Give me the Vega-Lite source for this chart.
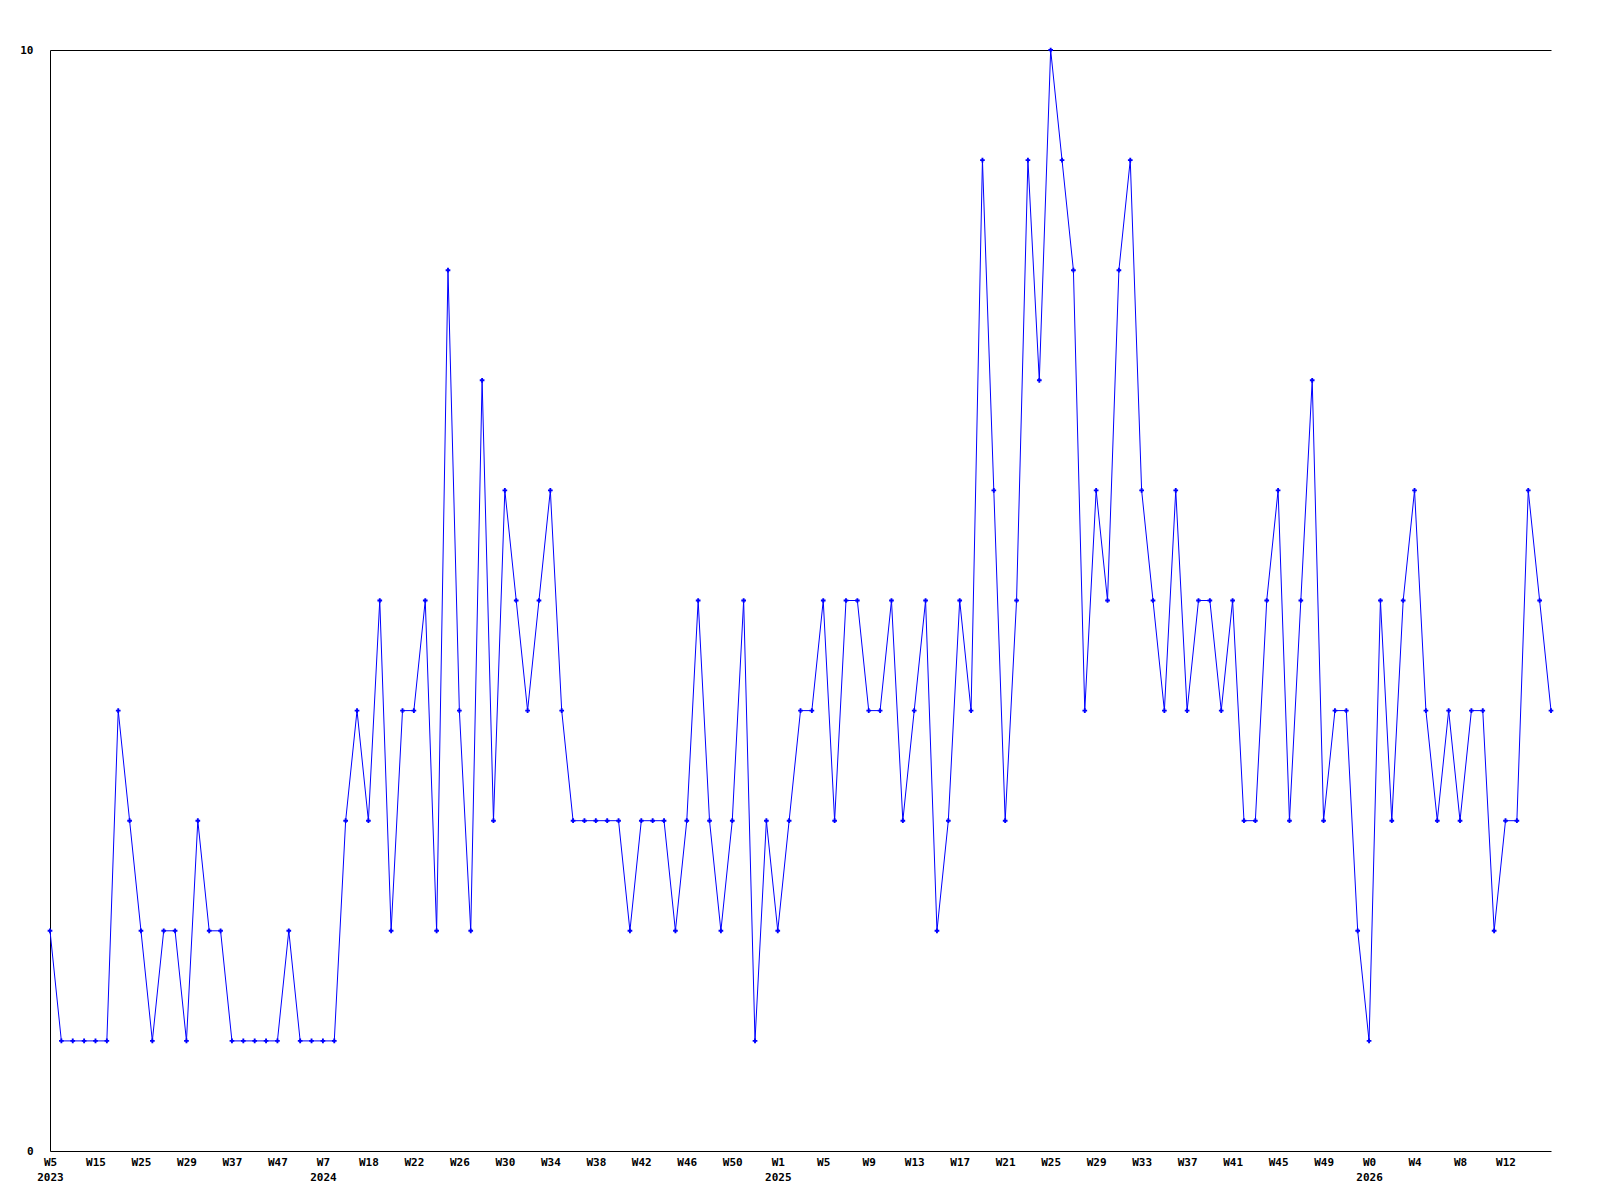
{
  "$schema": "https://vega.github.io/schema/vega-lite/v6.json",
  "autosize": "none",
  "width": 1501,
  "height": 1101,
  "padding": {"left": 50, "top": 50, "right": 49, "bottom": 49},
  "background": "white",
  "config": {
    "view": {"stroke": null},
    "axis": {
      "labelFont": "DejaVu Sans Mono",
      "labelFontWeight": "bold",
      "labelFontSize": 11,
      "labelColor": "black",
      "domainColor": "black",
      "domainWidth": 1,
      "ticks": false,
      "grid": false,
      "title": null
    }
  },
  "data": {
    "values": [
      {"week": "2023-W5", "count": 2},
      {"week": "2023-W7", "count": 1},
      {"week": "2023-W10", "count": 1},
      {"week": "2023-W12", "count": 1},
      {"week": "2023-W15", "count": 1},
      {"week": "2023-W17", "count": 1},
      {"week": "2023-W20", "count": 4},
      {"week": "2023-W22", "count": 3},
      {"week": "2023-W25", "count": 2},
      {"week": "2023-W26", "count": 1},
      {"week": "2023-W27", "count": 2},
      {"week": "2023-W28", "count": 2},
      {"week": "2023-W29", "count": 1},
      {"week": "2023-W31", "count": 3},
      {"week": "2023-W33", "count": 2},
      {"week": "2023-W35", "count": 2},
      {"week": "2023-W37", "count": 1},
      {"week": "2023-W39", "count": 1},
      {"week": "2023-W42", "count": 1},
      {"week": "2023-W44", "count": 1},
      {"week": "2023-W47", "count": 1},
      {"week": "2023-W49", "count": 2},
      {"week": "2023-W51", "count": 1},
      {"week": "2024-W3", "count": 1},
      {"week": "2024-W7", "count": 1},
      {"week": "2024-W10", "count": 1},
      {"week": "2024-W13", "count": 3},
      {"week": "2024-W15", "count": 4},
      {"week": "2024-W18", "count": 3},
      {"week": "2024-W19", "count": 5},
      {"week": "2024-W20", "count": 2},
      {"week": "2024-W21", "count": 4},
      {"week": "2024-W22", "count": 4},
      {"week": "2024-W23", "count": 5},
      {"week": "2024-W24", "count": 2},
      {"week": "2024-W25", "count": 8},
      {"week": "2024-W26", "count": 4},
      {"week": "2024-W27", "count": 2},
      {"week": "2024-W28", "count": 7},
      {"week": "2024-W29", "count": 3},
      {"week": "2024-W30", "count": 6},
      {"week": "2024-W31", "count": 5},
      {"week": "2024-W32", "count": 4},
      {"week": "2024-W33", "count": 5},
      {"week": "2024-W34", "count": 6},
      {"week": "2024-W35", "count": 4},
      {"week": "2024-W36", "count": 3},
      {"week": "2024-W37", "count": 3},
      {"week": "2024-W38", "count": 3},
      {"week": "2024-W39", "count": 3},
      {"week": "2024-W40", "count": 3},
      {"week": "2024-W41", "count": 2},
      {"week": "2024-W42", "count": 3},
      {"week": "2024-W43", "count": 3},
      {"week": "2024-W44", "count": 3},
      {"week": "2024-W45", "count": 2},
      {"week": "2024-W46", "count": 3},
      {"week": "2024-W47", "count": 5},
      {"week": "2024-W48", "count": 3},
      {"week": "2024-W49", "count": 2},
      {"week": "2024-W50", "count": 3},
      {"week": "2024-W51", "count": 5},
      {"week": "2024-W52", "count": 1},
      {"week": "2025-W0", "count": 3},
      {"week": "2025-W1", "count": 2},
      {"week": "2025-W2", "count": 3},
      {"week": "2025-W3", "count": 4},
      {"week": "2025-W4", "count": 4},
      {"week": "2025-W5", "count": 5},
      {"week": "2025-W6", "count": 3},
      {"week": "2025-W7", "count": 5},
      {"week": "2025-W8", "count": 5},
      {"week": "2025-W9", "count": 4},
      {"week": "2025-W10", "count": 4},
      {"week": "2025-W11", "count": 5},
      {"week": "2025-W12", "count": 3},
      {"week": "2025-W13", "count": 4},
      {"week": "2025-W14", "count": 5},
      {"week": "2025-W15", "count": 2},
      {"week": "2025-W16", "count": 3},
      {"week": "2025-W17", "count": 5},
      {"week": "2025-W18", "count": 4},
      {"week": "2025-W19", "count": 9},
      {"week": "2025-W20", "count": 6},
      {"week": "2025-W21", "count": 3},
      {"week": "2025-W22", "count": 5},
      {"week": "2025-W23", "count": 9},
      {"week": "2025-W24", "count": 7},
      {"week": "2025-W25", "count": 10},
      {"week": "2025-W26", "count": 9},
      {"week": "2025-W27", "count": 8},
      {"week": "2025-W28", "count": 4},
      {"week": "2025-W29", "count": 6},
      {"week": "2025-W30", "count": 5},
      {"week": "2025-W31", "count": 8},
      {"week": "2025-W32", "count": 9},
      {"week": "2025-W33", "count": 6},
      {"week": "2025-W34", "count": 5},
      {"week": "2025-W35", "count": 4},
      {"week": "2025-W36", "count": 6},
      {"week": "2025-W37", "count": 4},
      {"week": "2025-W38", "count": 5},
      {"week": "2025-W39", "count": 5},
      {"week": "2025-W40", "count": 4},
      {"week": "2025-W41", "count": 5},
      {"week": "2025-W42", "count": 3},
      {"week": "2025-W43", "count": 3},
      {"week": "2025-W44", "count": 5},
      {"week": "2025-W45", "count": 6},
      {"week": "2025-W46", "count": 3},
      {"week": "2025-W47", "count": 5},
      {"week": "2025-W48", "count": 7},
      {"week": "2025-W49", "count": 3},
      {"week": "2025-W50", "count": 4},
      {"week": "2025-W51", "count": 4},
      {"week": "2025-W52", "count": 2},
      {"week": "2026-W0", "count": 1},
      {"week": "2026-W1", "count": 5},
      {"week": "2026-W2", "count": 3},
      {"week": "2026-W3", "count": 5},
      {"week": "2026-W4", "count": 6},
      {"week": "2026-W5", "count": 4},
      {"week": "2026-W6", "count": 3},
      {"week": "2026-W7", "count": 4},
      {"week": "2026-W8", "count": 3},
      {"week": "2026-W9", "count": 4},
      {"week": "2026-W10", "count": 4},
      {"week": "2026-W11", "count": 2},
      {"week": "2026-W12", "count": 3},
      {"week": "2026-W13", "count": 3},
      {"week": "2026-W14", "count": 6},
      {"week": "2026-W15", "count": 5},
      {"week": "2026-W16", "count": 4}
    ]
  },
  "resolve": {"axis": {"x": "independent"}},
  "layer": [
    {
      "mark": {"type": "line", "color": "#0000FF", "strokeWidth": 1},
      "encoding": {
        "x": {
          "field": "week",
          "type": "ordinal",
          "sort": null,
          "scale": {"type": "point", "padding": 0},
          "axis": {
            "orient": "bottom",
            "labelAngle": 0,
            "labelAlign": "center",
            "labelPadding": 5,
            "labelLineHeight": 15,
            "labelOverlap": false,
            "values": ["2023-W5", "2023-W15", "2023-W25", "2023-W29", "2023-W37", "2023-W47", "2024-W7", "2024-W18", "2024-W22", "2024-W26", "2024-W30", "2024-W34", "2024-W38", "2024-W42", "2024-W46", "2024-W50", "2025-W1", "2025-W5", "2025-W9", "2025-W13", "2025-W17", "2025-W21", "2025-W25", "2025-W29", "2025-W33", "2025-W37", "2025-W41", "2025-W45", "2025-W49", "2026-W0", "2026-W4", "2026-W8", "2026-W12"],
            "labelExpr": "indexof(['2023-W5','2024-W7','2025-W1','2026-W0'], datum.value) >= 0 ? [split(datum.value,'-')[1], split(datum.value,'-')[0]] : split(datum.value,'-')[1]"
          }
        },
        "y": {
          "field": "count",
          "type": "quantitative",
          "scale": {"domain": [0, 10], "nice": false, "zero": true},
          "axis": {"values": [0, 10], "format": "d", "labelPadding": 17, "labelBaseline": "middle"}
        }
      }
    },
    {
      "mark": {"type": "point", "shape": "cross", "filled": true, "color": "#0000FF", "size": 22, "opacity": 1},
      "encoding": {
        "x": {
          "field": "week",
          "type": "ordinal",
          "sort": null,
          "scale": {"type": "point", "padding": 0},
          "axis": {"orient": "top", "labels": false, "ticks": false, "domain": true}
        },
        "y": {"field": "count", "type": "quantitative"}
      }
    }
  ]
}
